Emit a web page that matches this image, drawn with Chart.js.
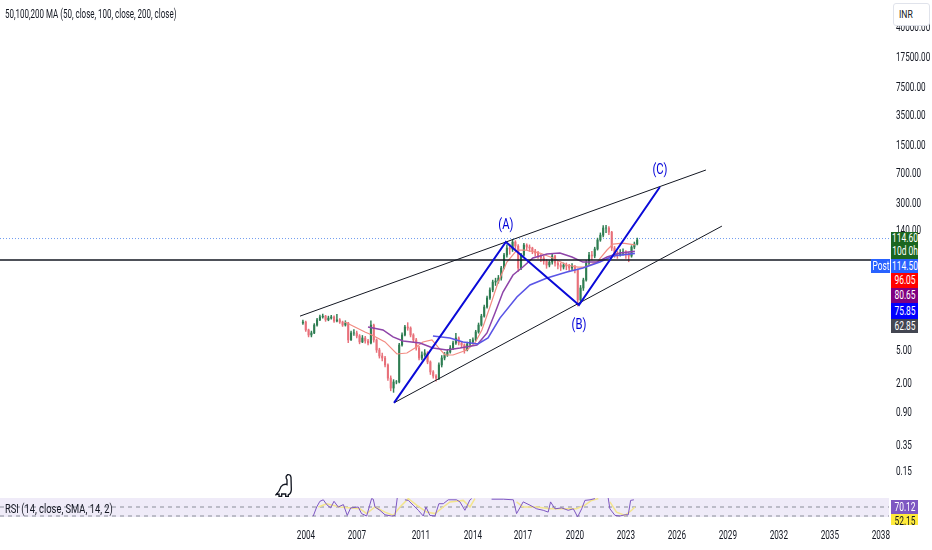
<!DOCTYPE html>
<html>
<head>
<meta charset="utf-8">
<script src="https://cdn.jsdelivr.net/npm/chart.js@4"></script>
<style>
  html, body { margin: 0; padding: 0; background: #fff; }
  body { width: 932px; height: 550px; position: relative; overflow: hidden; font-family: Roboto, sans-serif; color: #131722; }
  canvas { position: absolute; left: 0; }
  #main { top: 0; }
  #rsi { top: 498px; }
  .txt { position: absolute; font-size: 12px; white-space: nowrap; transform-origin: left center; }
  .box { position: absolute; color: #fff; font-size: 12px; box-sizing: border-box; overflow: hidden; }
  .box span { position: absolute; left: 50%; top: 0; text-align: center; transform: translateX(-50%) scaleX(0.7); white-space: nowrap; }
  #inr { position: absolute; left: 893px; top: 3px; width: 37px; height: 23px; background: #fff; border: 1px solid #e0e3eb; border-radius: 3px; box-sizing: border-box; font-size: 11px; padding: 4px 0 0 5px; }
  #inr span { display: inline-block; transform: scaleX(0.78); transform-origin: left center; }
  #dino { position: absolute; left: 275px; top: 473px; }
</style>
</head>
<body>
<canvas id="main" width="932" height="498"></canvas>
<canvas id="rsi" width="932" height="52"></canvas>
<div class="txt" style="left:5px;top:7px;transform:scaleX(0.665)">50,100,200 MA (50, close, 100, close, 200, close)</div>
<div class="txt" style="left:5px;top:502px;transform:scaleX(0.78)">RSI (14, close, SMA, 14, 2)</div>
<div id="inr"><span>INR</span></div>
<svg id="dino" width="19" height="25" viewBox="45 25 55 75"><path d="M82 30 Q90 28 92 38 L93 75 Q92 88 84 90 L84 95 L76 95 L76 88 L64 88 L64 95 L56 95 L56 88 L47 90 Q58 80 62 66 Q70 56 80 60 L80 45 Q76 40 78 34 Z" fill="#fff" stroke="#131722" stroke-width="4"/></svg>
<script>
// candles, one every two months
const candleFirstTime = 2003.82;
const candleStep = 1 / 6;
const candleFirstOpen = 10.9;
const candleClose = [11.2, 8.98, 7.81, 8.26, 10.3, 11.9, 12.9, 13.2, 11.9, 12.5, 12.9, 11.5, 11.9, 11.2, 10.3, 10.9, 6.8, 8.26, 8.26, 7.6, 6.43, 7.18, 6.61, 6.25, 10.3, 6.8, 5.14, 4.35, 4.11, 3.39, 2.35, 1.78, 2.11, 2.11, 5.91, 7.81, 9.75, 9.48, 7.81, 6.8, 5.43, 4.11, 4.47, 4.73, 3.68, 2.79, 2.49, 2.35, 3.39, 4.11, 4.47, 4.86, 5.43, 6.25, 7.18, 6.25, 5.91, 5.14, 6.08, 6.43, 6.8, 8.5, 10.3, 13.2, 17, 21.9, 27.3, 34.1, 35.1, 38.1, 50.4, 72.4, 88, 85.5, 104, 93, 50.4, 72.4, 95.6, 90.4, 88, 80.9, 76.5, 70.4, 66.6, 61.2, 54.8, 59.5, 70.4, 57.9, 54.8, 51.8, 54.8, 53.3, 50.4, 53.3, 47.7, 20.7, 28.9, 36.1, 57.9, 72.4, 70.4, 85.5, 110, 126, 153.6, 153.6, 137, 88, 74.4, 72.4, 76.5, 78.7, 74.4, 70.4, 90.4, 98.3, 110];
const candleHigh = [11.8, 11.5, 9.2, 8.7, 10.7, 12.4, 13.6, 14, 13.5, 13.2, 13.5, 13.3, 13.9, 12.3, 11.5, 11.6, 11.1, 8.7, 9.1, 8.7, 7.9, 7.7, 7.5, 6.9, 11.6, 10.6, 7, 5.4, 4.7, 4.3, 3.5, 2.5, 2.25, 2.2, 6.2, 8.3, 10.2, 11, 9.8, 8.1, 7.1, 5.7, 4.9, 5.2, 4.9, 3.8, 2.9, 2.6, 3.6, 4.4, 4.8, 5.2, 5.8, 6.6, 8.2, 7.4, 6.5, 6.1, 6.4, 6.9, 7.2, 8.9, 10.9, 13.9, 18, 23, 29, 36, 38, 41, 53, 76, 96, 98, 112, 108, 97, 76, 100, 99, 96, 90, 85, 80, 74, 70, 64, 62, 76, 72, 61, 58, 58, 58, 56, 57, 54, 49, 31, 38, 62, 78, 80, 90, 116, 134, 164, 166, 160, 140, 92, 80, 84, 86, 82, 78, 94, 104, 116];
const candleLow = [10.5, 8.6, 7.4, 7.4, 8.1, 10, 11.6, 12.5, 11.4, 11.6, 12.1, 11.1, 11.2, 10.8, 9.9, 10, 6.3, 6.7, 7.7, 7.2, 6.1, 6.3, 6.2, 5.9, 6.1, 6.4, 4.8, 4.1, 3.8, 3.2, 2.2, 1.65, 1.58, 2, 2.05, 5.7, 7.6, 8.9, 7.4, 6.3, 5.1, 3.9, 3.9, 4.3, 3.5, 2.6, 2.35, 2.15, 2.25, 3.2, 3.9, 4.3, 4.7, 5.2, 6, 5.9, 5.6, 4.7, 5, 5.8, 6.1, 6.6, 8.2, 10, 12.8, 16.5, 21, 26, 31, 33, 36, 49, 68, 74, 80, 86, 46, 48, 70, 84, 80, 75, 70, 66, 60, 56, 50, 52, 56, 53, 49, 47, 49, 48, 46, 48, 44, 17.5, 19.5, 27, 35, 55, 63, 67, 83, 106, 120, 135, 128, 82, 68, 66, 70, 72, 66, 60, 68, 86, 96];

// moving averages
const ma50Time = [2006.29, 2006.88, 2007.47, 2007.88, 2008.65, 2009.35, 2009.94, 2010.41, 2010.88, 2011.41, 2011.76, 2012.18, 2012.65, 2013.47, 2013.94, 2014.35, 2014.82, 2015.29, 2015.82, 2016.41, 2016.88, 2017.76, 2018.53, 2019.35, 2020, 2020.41, 2021.12, 2021.71, 2022.06, 2022.65, 2023.35];
const ma50 = [11.2, 9.75, 8.5, 7.81, 6.43, 4.6, 4.73, 5.43, 6.43, 6.8, 5.59, 4.47, 4.47, 5.14, 6.25, 8.98, 17, 33.2, 59.5, 83.2, 83.2, 76.5, 66.6, 54.8, 51.8, 51.8, 59.5, 83.2, 98.3, 101, 96.05];
const ma100Time = [2007.65, 2008.53, 2009.12, 2009.71, 2010.71, 2011.47, 2012.29, 2013.06, 2014.06, 2014.65, 2015.12, 2015.59, 2016.18, 2016.76, 2017.35, 2018.18, 2018.94, 2019.65, 2020.29, 2021.12, 2021.71, 2022.47, 2023.35];
const ma100 = [9.75, 8.98, 7.39, 6.61, 6.25, 5.43, 5.14, 5.43, 5.91, 8.26, 14.4, 25.8, 41.5, 51.8, 66.6, 74.4, 76.5, 68.4, 59.5, 59.5, 68.4, 76.5, 80.65];
const ma200Time = [2011.47, 2012.47, 2013.24, 2014.12, 2014.71, 2015.41, 2016.41, 2017.18, 2018.18, 2019.35, 2020.29, 2021.29, 2022.06, 2023.35];
const ma200 = [7.6, 7.18, 6.43, 6.08, 7.18, 12.5, 22.5, 31.4, 38.1, 45.1, 50.4, 59.5, 70.4, 75.85];

// drawn lines
const upperTrendTime = [2003.65, 2027.53];
const upperTrend = [13.2, 773];
const lowerTrendTime = [2009.18, 2028.47];
const lowerTrend = [1.18, 162];
const waveTime = [2009.18, 2015.76, 2020.06, 2024.82];
const wavePrice = [1.18, 104, 18, 482];
const waveNames = ['(A)', '(B)', '(C)'];
const waveNameTime = [2015.76, 2020.06, 2024.82];
const waveNamePrice = [167, 10.3, 773];
const lastPrice = 114.6;
const blackLevel = 62.85;
const blackLevelEnd = 2037.24;

// rsi pane
const rsiTime = [2004.43, 2004.63, 2004.82, 2005.02, 2005.22, 2005.45, 2005.65, 2005.9, 2006.2, 2006.43, 2006.63, 2007.08, 2007.27, 2007.57, 2007.86, 2007.96, 2008.06, 2008.35, 2008.65, 2009.04, 2009.24, 2009.37, 2009.6, 2009.82, 2010.02, 2010.31, 2010.61, 2010.9, 2011.06, 2011.29, 2011.59, 2011.82, 2012.08, 2012.37, 2012.86, 2013.06, 2013.35, 2013.65, 2013.75, 2014.3, 2014.92, 2015.61, 2016.2, 2016.39, 2016.78, 2017.18, 2017.57, 2017.96, 2018.25, 2018.39, 2018.65, 2019.04, 2019.43, 2019.73, 2019.98, 2020.22, 2020.41, 2020.71, 2021, 2021.4, 2021.78, 2021.88, 2022.18, 2022.47, 2022.77, 2022.96, 2023.1, 2023.29];
const rsiValue = [40, 70, 89, 94, 78, 67, 89, 70, 78, 42, 67, 70, 48, 40, 98, 96, 70, 59, 44, 40, 42, 100, null, 94, 92, 76, 59, 40, 70, 42, 40, 81, 81, 94, 94, 87, 59, 94, 98, null, 96, 96, 94, 48, 87, 76, 64, 59, 53, 87, 64, 67, 59, 64, 37, 64, 92, 94, 98, null, 100, 64, 42, 40, 44, 44, 92, 94];
const rsiMaTime = [2004.73, 2005.22, 2006, 2007.18, 2007.57, 2008.06, 2008.65, 2009.14, 2009.53, 2010.02, 2010.51, 2011.1, 2011.59, 2012.08, 2012.47, 2013.25, 2013.65, 2013.94, 2014.5, 2016.39, 2016.78, 2017.57, 2018.35, 2019.92, 2020.41, 2020.8, 2021.2, 2021.5, 2021.88, 2022.27, 2022.77, 2023.16, 2023.35];
const rsiMa = [70, 81, 70, 64, 48, 70, 53, 42, 70, 98, 76, 53, 48, 70, 87, 92, 70, 98, null, 87, 70, 70, 64, 64, 76, 92, 98, null, 87, 53, 42, 59, 70];
const rsiLevels = [70, 40];
const rsiBandTop = 100;
const rsiBandBottom = 37;

// axes
const timeMin = 1986;
const timeMax = 2038.3;
const yearTicks = [2004, 2007, 2010.76, 2013.82, 2016.76, 2019.82, 2022.82, 2025.82, 2028.82, 2031.82, 2034.82, 2037.82];
const yearLabels = ['2004', '2007', '2011', '2014', '2017', '2020', '2023', '2026', '2029', '2032', '2035', '2038'];
const priceTicks = [40000, 17500, 7500, 3500, 1500, 700, 300, 140, 60, 30, 12, 5, 2, 0.9, 0.35, 0.17];
const priceLabels = ['40000.00', '17500.00', '7500.00', '3500.00', '1500.00', '700.00', '300.00', '140.00', '60.00', '30.00', '12.00', '5.00', '2.00', '0.90', '0.35', '0.15'];

// value tags on the price axis
const tagTexts = ['114.60<br>10d 0h', '114.50', '96.05', '80.65', '75.85', '62.85', '70.12', '52.15'];
const tagTops = [232, 259, 273, 288, 303, 319, 500, 514];
const tagHeights = [27, 14, 15, 15, 16, 14, 14, 11];
const tagColors = ['#1b661f', '#2962ff', '#ff0000', '#800080', '#0000ff', '#434651', '#7e57c2', '#ffeb3b'];

const narrowFont = '12px Roboto, sans-serif';
const narrowScale = 0.68;

function pts(xs, ys) {
  return xs.map((x, i) => ({ x, y: ys[i] }));
}

function lineSet(xs, ys, color, width, order, extra) {
  return Object.assign({
    type: 'line',
    data: pts(xs, ys),
    borderColor: color,
    borderWidth: width,
    pointRadius: 0,
    tension: 0,
    fill: false,
    order
  }, extra || {});
}

function candleSets() {
  const times = candleClose.map((c, i) => candleFirstTime + i * candleStep);
  const opens = candleClose.map((c, i) => i === 0 ? candleFirstOpen : candleClose[i - 1]);
  const colors = candleClose.map((c, i) => c >= opens[i] ? '#2e7d52' : '#e8707a');
  const common = { type: 'bar', backgroundColor: colors, borderWidth: 0, grouped: false, order: 6 };
  return [
    Object.assign({}, common, {
      data: times.map((x, i) => ({ x, y: [candleLow[i], candleHigh[i]] })),
      barThickness: 0.8
    }),
    Object.assign({}, common, {
      data: times.map((x, i) => ({ x, y: [Math.min(opens[i], candleClose[i]), Math.max(opens[i], candleClose[i])] })),
      barThickness: 1.4
    })
  ];
}

// no narrow font is installed, so the glyphs are squeezed
function narrowText(ctx, text, x, y, align, font, scale) {
  ctx.save();
  ctx.translate(x, y);
  ctx.scale(scale, 1);
  ctx.font = font;
  ctx.textAlign = align;
  ctx.textBaseline = 'middle';
  ctx.fillText(text, 0, 0);
  ctx.restore();
}

const waveLabelPlugin = {
  id: 'waveLabels',
  afterDatasetsDraw(chart) {
    const { ctx, scales } = chart;
    ctx.fillStyle = '#0000d8';
    waveNames.forEach((name, i) => {
      narrowText(ctx, name, scales.x.getPixelForValue(waveNameTime[i]), scales.y.getPixelForValue(waveNamePrice[i]), 'center', '15px Roboto, sans-serif', 0.75);
    });
    ctx.fillStyle = '#131722';
    priceTicks.forEach((value, i) => {
      narrowText(ctx, priceLabels[i], 896, scales.y.getPixelForValue(value), 'left', narrowFont, narrowScale);
    });
  }
};

const yearLabelPlugin = {
  id: 'yearLabels',
  afterDatasetsDraw(chart) {
    const { ctx, scales } = chart;
    ctx.fillStyle = '#131722';
    yearTicks.forEach((value, i) => {
      narrowText(ctx, yearLabels[i], scales.x.getPixelForValue(value), 38, 'center', narrowFont, narrowScale);
    });
  }
};

function criarGraficoPreco() {
  new Chart(document.getElementById('main').getContext('2d'), {
    data: {
      datasets: [
        lineSet([timeMin, timeMax], [lastPrice, lastPrice], '#6f9bf0', 1, 8, { borderDash: [1, 2] }),
        ...candleSets(),
        lineSet(ma50Time, ma50, '#f28b82', 1.2, 5),
        lineSet(ma100Time, ma100, '#8e44a8', 1.5, 4),
        lineSet(ma200Time, ma200, '#5a55e6', 1.6, 3),
        lineSet(upperTrendTime, upperTrend, '#131722', 1, 2),
        lineSet(lowerTrendTime, lowerTrend, '#131722', 1, 2),
        lineSet([timeMin, blackLevelEnd], [blackLevel, blackLevel], '#131722', 1.5, 2),
        lineSet(waveTime, wavePrice, '#0a0ad8', 2, 1)
      ]
    },
    options: {
      responsive: false,
      animation: false,
      events: [],
      layout: { padding: 0 },
      plugins: { legend: { display: false }, tooltip: { enabled: false } },
      scales: {
        x: { type: 'linear', min: timeMin, max: timeMax, offset: false, display: false },
        y: {
          type: 'logarithmic',
          position: 'right',
          min: 0.0833,
          max: 88000,
          border: { display: false },
          grid: { display: false },
          afterFit(scale) { scale.width = 43; scale.paddingTop = 0; scale.paddingBottom = 0; },
          ticks: { display: false }
        }
      }
    },
    plugins: [waveLabelPlugin]
  });
}

function criarGraficoRsi() {
  const levelSets = rsiLevels.map(level =>
    lineSet([timeMin, timeMax], [level, level], '#8a8d98', 1, 3, { borderDash: [4, 4] }));
  new Chart(document.getElementById('rsi').getContext('2d'), {
    data: {
      datasets: [
        lineSet([timeMin, timeMax], [rsiBandTop, rsiBandTop], 'transparent', 0, 5, {
          fill: { value: rsiBandBottom },
          backgroundColor: '#efebf8'
        }),
        ...levelSets,
        lineSet(rsiMaTime, rsiMa, '#f3e58e', 1.5, 2),
        lineSet(rsiTime, rsiValue, '#7e57c2', 1, 1)
      ]
    },
    options: {
      responsive: false,
      animation: false,
      events: [],
      layout: { padding: { right: 43 } },
      plugins: { legend: { display: false }, tooltip: { enabled: false } },
      scales: {
        x: {
          type: 'linear',
          min: timeMin,
          max: timeMax,
          border: { display: false },
          grid: { display: false },
          afterFit(scale) { scale.height = 25; scale.paddingLeft = 0; scale.paddingRight = 0; },
          ticks: { display: false }
        },
        y: { min: 10, max: 100, display: false }
      }
    },
    plugins: [yearLabelPlugin]
  });
}

function criarEtiquetas() {
  tagTexts.forEach((text, i) => {
    const div = document.createElement('div');
    div.className = 'box';
    div.innerHTML = '<span>' + text + '</span>';
    div.style.left = '891px';
    div.style.width = '27px';
    div.style.top = tagTops[i] + 'px';
    div.style.height = tagHeights[i] + 'px';
    div.style.lineHeight = i === 0 ? '13px' : tagHeights[i] + 'px';
    div.style.background = tagColors[i];
    if (i === 7) { div.style.color = '#131722'; div.style.lineHeight = '14px'; }
    document.body.appendChild(div);
  });
  const post = document.createElement('div');
  post.className = 'box';
  post.innerHTML = '<span>Post</span>';
  post.style.cssText = 'left:871px;top:259px;width:19px;height:14px;line-height:14px;background:#2962ff';
  document.body.appendChild(post);
}

criarGraficoPreco();
criarGraficoRsi();
criarEtiquetas();
</script>
</body>
</html>
